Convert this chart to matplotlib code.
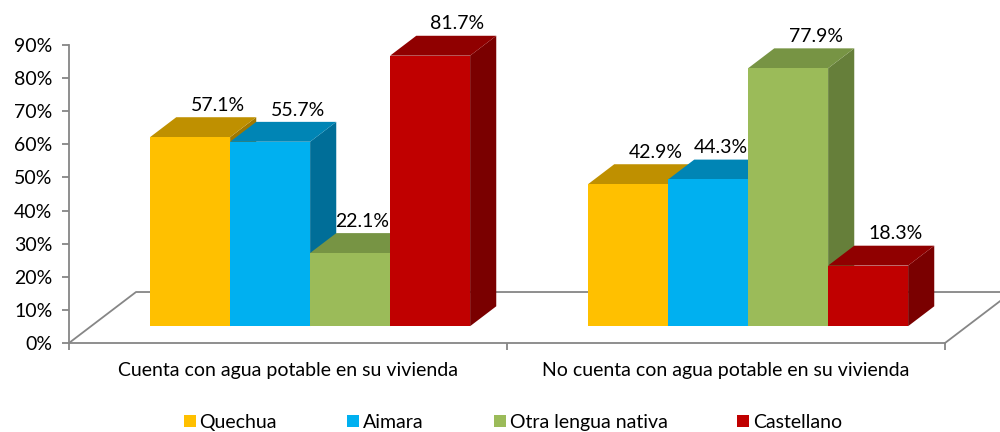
import matplotlib
matplotlib.use("Agg")
import matplotlib.pyplot as plt
from matplotlib.patches import Polygon, Patch

plt.rcParams['font.family'] = ['Lato', 'DejaVu Sans']

categories = ["Cuenta con agua potable en su vivienda",
              "No cuenta con agua potable en su vivienda"]
series = ["Quechua", "Aimara", "Otra lengua nativa", "Castellano"]
quechua = [57.1, 42.9]
aimara = [55.7, 44.3]
otra = [22.1, 77.9]
castellano = [81.7, 18.3]
values = [quechua, aimara, otra, castellano]
y_ticks = [0, 10, 20, 30, 40, 50, 60, 70, 80, 90]
y_ticklabels = ["0%", "10%", "20%", "30%", "40%", "50%", "60%", "70%", "80%", "90%"]

front_colors = ["#FFC000", "#00B0F0", "#9BBB59", "#C00000"]
top_colors = ["#BF9000", "#0085B5", "#779444", "#900000"]
side_colors = ["#A07800", "#006E98", "#667F3A", "#7A0000"]

FS = 14

fig = plt.figure(figsize=(10, 4.32), dpi=100)
ax = fig.add_axes([0.069, 89 / 432, 0.876, 298 / 432])
ax.set_xlim(-0.5, 1.5)
ax.set_ylim(0, 90)

# floor depth in data units
DX, DY = 0.153, 15.4
f0, f1 = 0.33, 0.72
width = 80 / 438
axis_col = "#868686"

# floor outline
ax.plot([-0.5, -0.5 + DX, 1.5 + DX], [0, DY, DY], color=axis_col, lw=1.3,
        clip_on=False, zorder=1)
ax.plot([1.5, 1.5 + DX], [0, DY], color=axis_col, lw=1.3, clip_on=False, zorder=1)

base = f0 * DY
ddx = (f1 - f0) * DX
ddy = (f1 - f0) * DY
z = 3
for ci in range(len(categories)):
    for si in range(len(series)):
        v = values[si][ci]
        xc = ci + f0 * DX + (si - 1.5) * width
        xl, xr = xc - width / 2, xc + width / 2
        top = base + v
        side = Polygon([(xr, base), (xr + ddx, base + ddy), (xr + ddx, top + ddy), (xr, top)],
                       closed=True, facecolor=side_colors[si], edgecolor='none', zorder=z,
                       clip_on=False)
        ax.add_patch(side)
        tp = Polygon([(xl, top), (xr, top), (xr + ddx, top + ddy), (xl + ddx, top + ddy)],
                     closed=True, facecolor=top_colors[si], edgecolor='none', zorder=z,
                     clip_on=False)
        ax.add_patch(tp)
        ax.bar([xc], [v], width=width, bottom=base, color=front_colors[si],
               edgecolor='none', zorder=z + 0.5, clip_on=False)
        # label: avoid overlapping a taller neighbour on the right
        nxt = values[si + 1][ci] if si + 1 < len(series) else None
        if nxt is not None and nxt > v + 8:
            ax.annotate(f"{v:.1f}%", xy=(xr, top + ddy), xytext=(-0.5, 8.5),
                        textcoords='offset points', ha='right', va='center',
                        fontsize=FS, color='black', zorder=20, annotation_clip=False)
        else:
            ax.annotate(f"{v:.1f}%", xy=(xc + ddx * 1.05, top + ddy), xytext=(0, 8.5),
                        textcoords='offset points', ha='center', va='center',
                        fontsize=FS, color='black', zorder=20, annotation_clip=False)
        z += 1

for s in ['top', 'right']:
    ax.spines[s].set_visible(False)
for s in ['left', 'bottom']:
    ax.spines[s].set_color(axis_col)
    ax.spines[s].set_linewidth(1.3)

ax.set_yticks(y_ticks)
ax.set_yticklabels(y_ticklabels, fontsize=FS)
ax.tick_params(axis='y', direction='out', length=5, width=1.3, color=axis_col, pad=7)

ax.set_xticks([0, 1])
ax.set_xticklabels(categories, fontsize=FS)
ax.set_xticks([-0.5, 0.5, 1.5], minor=True)
ax.tick_params(axis='x', which='major', length=0, pad=14)
ax.tick_params(axis='x', which='minor', direction='out', length=5, width=1.3, color=axis_col)

handles = [Patch(facecolor=c, edgecolor='none') for c in front_colors]
fig.legend(handles, series, loc='center', bbox_to_anchor=(0.513, 0.022), ncol=4,
           frameon=False, fontsize=FS, handlelength=0.62, handleheight=0.62,
           handletextpad=0.2, columnspacing=3.6, borderpad=0)

fig.savefig("out.png", dpi=100)
